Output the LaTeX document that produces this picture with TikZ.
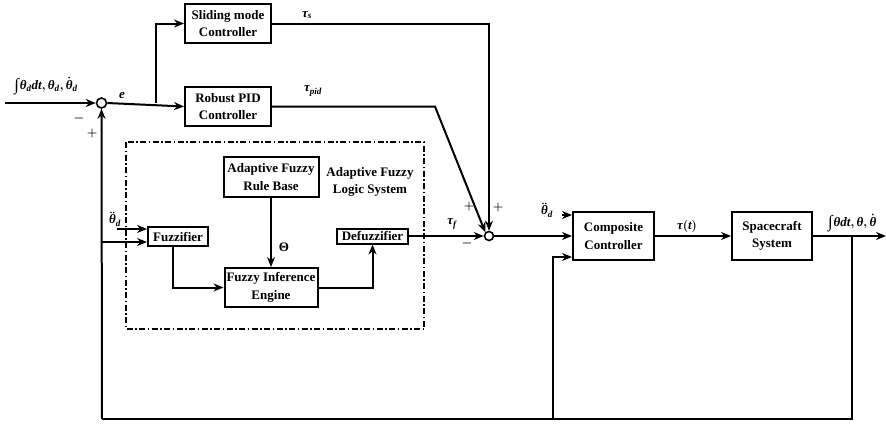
\documentclass[tikz,border=0pt]{standalone}
\usepackage{amsmath}
\usepackage{fontspec}
\setmainfont{Liberation Serif}
\usetikzlibrary{arrows.meta,calc}
\newcommand{\lth}{\text{\itshape θ}}
\newcommand{\ltau}{\text{\itshape τ}}
\newcommand{\lsub}[1]{\text{\itshape #1}}
\newcommand{\lint}{\text{\fontsize{17}{17}\selectfont\raisebox{-1.5pt}{∫}}\hspace{1pt}}
\begin{document}
\begin{tikzpicture}[x=1pt,y=-1pt,line width=2pt,
  font=\bfseries\boldmath\fontsize{13}{17.5}\selectfont,
  blk/.style={draw,line width=2pt,inner sep=0pt,align=center},
  arr/.style={-{Stealth[length=10pt,width=8pt]}},
  sumc/.style={circle,draw,line width=1.6pt,inner sep=0pt,fill=white},
  lbl/.style={inner sep=1pt,align=center}]
\useasboundingbox (0,0) rectangle (886,426);
% blocks
\node[blk,minimum width=86pt,minimum height=39pt] (slide) at (228,23.5) {Sliding mode\\Controller};
\node[blk,minimum width=86pt,minimum height=39pt] (pid) at (228,106.5) {Robust PID\\Controller};
\node[blk,minimum width=95pt,minimum height=40pt] (rule) at (271,177) {Adaptive Fuzzy\\Rule Base};
\node[blk,minimum width=60pt,minimum height=19pt] (fuzz) at (178,236.5) {Fuzzifier};
\node[blk,minimum width=93pt,minimum height=39pt] (fie) at (271,287.5) {Fuzzy Inference\\Engine};
\node[blk,minimum width=71pt,minimum height=15pt] (defz) at (372.5,236) {Defuzzifier};
\node[blk,minimum width=81pt,minimum height=48pt] (comp) at (613.5,236) {Composite\\Controller};
\node[blk,minimum width=80pt,minimum height=48pt] (sc) at (772,236) {Spacecraft\\System};
\node[sumc,minimum size=10pt] (s1) at (101.5,103) {};
\node[sumc,minimum size=9pt] (s2) at (489,236) {};
% dash-dot frame
\draw[line width=1.2pt,dash pattern=on 6pt off 2.5pt on 1.5pt off 2.5pt] (126,142) rectangle (424,329);
% coordinates
\coordinate (in) at (5,103);
\coordinate (br1) at (156,103);
\coordinate (tdd1) at (117,229);
\coordinate (tdd2) at (562,215);
\coordinate (out) at (886,236);
\coordinate (fb) at (852,236);
\coordinate (fbr) at (852,419);
\coordinate (fbm) at (553,419);
\coordinate (fbl) at (102,419);
\coordinate (fbf) at (102,242);
\coordinate (pidk) at (435,106.5);
% connectors
\draw[arr] (in) -- (s1.west);
\draw[arr] (s1.east) -- (pid.west);
\draw[arr] (br1) |- (slide.west);
\draw[arr] (slide.east) -| (s2.north);
\draw[arr] (pid.east) -- (pidk) -- (s2.north west);
\draw[arr] (defz.east) -- (s2.west);
\draw[arr] (s2.east) -- (comp.west);
\draw[arr] (tdd2) -- (tdd2 -| comp.west);
\draw[arr] (comp.east) -- (sc.west);
\draw[arr] (sc.east) -- (out);
\draw (fb) -- (fbr) -- (fbl);
\draw[arr] (fbl) -- (s1.south);
\draw[arr] (fbm) |- ([yshift=-21pt]comp.west);
\draw[arr] (tdd1) -- (tdd1 -| fuzz.west);
\draw[arr] (fbf) -- (fbf -| fuzz.west);
\draw[arr] ([xshift=-5pt]fuzz.south) |- (fie.west);
\draw[arr] (rule.south) -- (fie.north);
\draw[arr] (fie.east) -| (defz.south);
% labels
\node[lbl] (linp) at (46,86) {$\lint\lth_{\lsub{d}}\lsub{dt}, \lth_{\lsub{d}}, \dot{\lth}_{\lsub{d}}$};
\node[lbl] (lm1) at (79,118) {$-$};
\node[lbl] (lp1) at (92,133) {$+$};
\node[lbl] (le) at (122,95) {\itshape e};
\node[lbl] (lts) at (307,15) {$\ltau_{\lsub{s}}$};
\node[lbl] (ltp) at (313,91) {$\ltau_{\lsub{pid}}$};
\node[lbl] (lafl) at (370,182) {Adaptive Fuzzy\\Logic System};
\node[lbl] (lth) at (284,247) {Θ};
\node[lbl] (ltdd1) at (115,219) {$\ddot{\lth}_{\lsub{d}}$};
\node[lbl] (ltf) at (452,224) {$\ltau_{\lsub{f}}$};
\node[lbl] (lm2) at (467,243) {$-$};
\node[lbl] (lp2) at (469,206) {$+$};
\node[lbl] (lp3) at (498,207) {$+$};
\node[lbl] (ltdd2) at (547,210) {$\ddot{\lth}_{\lsub{d}}$};
\node[lbl] (ltt) at (687,226) {$\ltau(\lsub{t})$};
\node[lbl,anchor=west] (lout) at (826,223) {$\lint\lth\lsub{dt}, \lth, \dot{\lth}$};
\end{tikzpicture}
\end{document}
